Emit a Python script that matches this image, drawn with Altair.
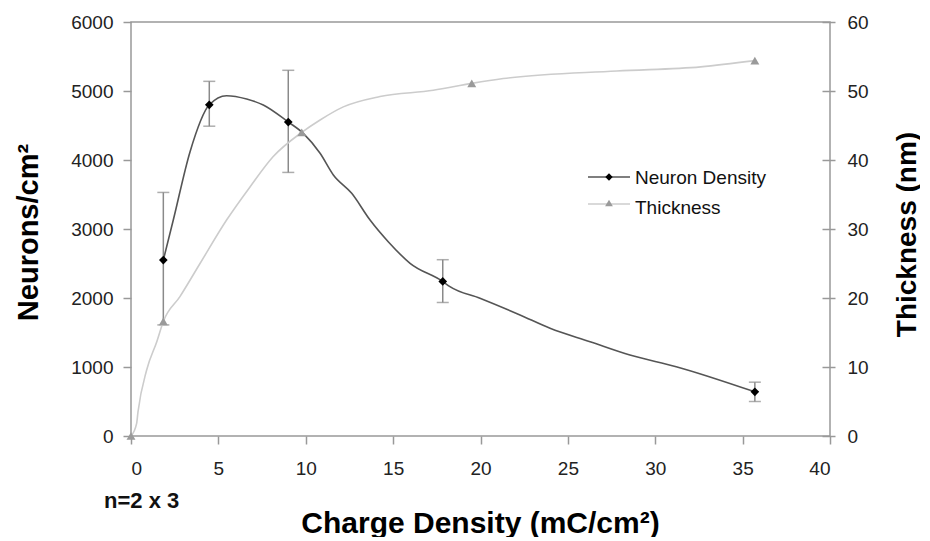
import altair as alt
import pandas as pd

# Measured points (with markers)
nd_x = [1.85, 4.48, 9.0, 17.84, 35.7]
nd_y = [2550, 4800, 4550, 2240, 640]
nd_lo = [1610, 4490, 3820, 1935, 500]
nd_hi = [3530, 5140, 5300, 2555, 780]

th_x = [0, 1.85, 9.77, 19.5, 35.7]
th_y = [0, 16.6, 44.0, 51.1, 54.4]

# Curve vertices
ndc_x = [1.85, 2.42, 3.38, 4.48, 5.47, 6.62, 7.57, 9.0, 9.86, 10.82, 11.58, 12.63,
         13.68, 14.72, 15.97, 17.84, 18.25, 19.97, 22.26, 23.98, 26.27, 28.55, 31.2, 35.7]
ndc_y = [2550, 3130, 4121, 4800, 4932, 4884, 4797, 4550, 4386, 4097, 3783, 3517,
         3130, 2816, 2503, 2240, 2164, 1996, 1754, 1561, 1367, 1174, 1005, 640]

thc_x = [0, 0.32, 0.4, 0.9, 1.48, 1.85, 2.8, 3.95, 5.47, 6.81, 8.14, 9.77, 10.82,
         12.15, 14.25, 17.3, 19.5, 21.3, 27.8, 32.6, 35.7]
thc_y = [0, 1.8, 3.5, 9.6, 13.7, 16.6, 20.2, 25.0, 31.3, 36.1, 40.5, 44.0, 45.8,
         47.7, 49.2, 50.1, 51.1, 51.8, 52.9, 53.5, 54.4]

x_ticks = [0, 5, 10, 15, 20, 25, 30, 35, 40]
left_ticks = [0, 1000, 2000, 3000, 4000, 5000, 6000]
right_ticks = [0, 10, 20, 30, 40, 50, 60]
legend_labels = ["Neuron Density", "Thickness"]
note_text = "n=2 x 3"

FONT = "Liberation Sans"
AX = "#999999"

nd_pts = pd.DataFrame({"x": nd_x, "y": nd_y, "lo": nd_lo, "hi": nd_hi})
th_pts = pd.DataFrame({"x": th_x, "y": th_y})
nd_curve = pd.DataFrame({"x": ndc_x, "y": ndc_y})
th_curve = pd.DataFrame({"x": thc_x, "y": thc_y})

x_axis = alt.Axis(values=x_ticks, title="Charge Density (mC/cm²)", grid=False, domain=False,
                  tickSize=8, tickColor=AX, tickWidth=1.5, labelPadding=15, format="d",
                  labelFont=FONT, labelFontSize=19, labelColor="#222",
                  titleFont=FONT, titleFontSize=30, titleFontWeight="bold", titleColor="#000",
                  titleX=349, titleY=87, titleBaseline="middle")
x_scale = alt.Scale(domain=[0, 40], nice=False, zero=False)


def xenc():
    return alt.X("x:Q", scale=x_scale, axis=x_axis)


left_scale = alt.Scale(domain=[0, 6000], nice=False)
left_axis = alt.Axis(orient="left", values=left_ticks, title="Neurons/cm²", grid=False, domain=False,
                     tickSize=8, tickColor=AX, tickWidth=1.5, labelPadding=10, format="d",
                     labelFont=FONT, labelFontSize=19, labelColor="#222",
                     titleFont=FONT, titleFontSize=29, titleFontWeight="bold", titleColor="#000",
                     titleAngle=-90, titleX=-103, titleY=210, titleAlign="center",
                     titleBaseline="middle")
right_scale = alt.Scale(domain=[0, 60], nice=False)
right_axis = alt.Axis(orient="right", values=right_ticks, title="Thickness (nm)", grid=False,
                      domain=False, offset=-8, format="d",
                      tickSize=13, tickColor=AX, tickWidth=1.5, labelPadding=12,
                      labelFont=FONT, labelFontSize=19, labelColor="#222",
                      titleFont=FONT, titleFontSize=28, titleFontWeight="bold", titleColor="#000",
                      titleAngle=-90, titleX=85, titleY=212, titleAlign="center",
                      titleBaseline="middle")

nd_line = alt.Chart(nd_curve).mark_line(color="#555555", strokeWidth=1.6, interpolate="monotone").encode(
    x=xenc(), y=alt.Y("y:Q", scale=left_scale, axis=left_axis))
nd_err = alt.Chart(nd_pts).mark_errorbar(color="#8a8a8a", thickness=1.5, ticks={"size": 12}).encode(
    x=xenc(), y=alt.Y("lo:Q", scale=left_scale, axis=left_axis), y2="hi:Q")
nd_mark = alt.Chart(nd_pts).mark_point(shape="diamond", filled=True, color="#000000", size=75, opacity=1).encode(
    x=xenc(), y=alt.Y("y:Q", scale=left_scale, axis=left_axis))
left = alt.layer(nd_err, nd_line, nd_mark)

th_line = alt.Chart(th_curve).mark_line(color="#cccccc", strokeWidth=1.6, interpolate="monotone").encode(
    x=xenc(), y=alt.Y("y:Q", scale=right_scale, axis=right_axis))
th_mark = alt.Chart(th_pts).mark_point(shape="triangle-up", filled=True, color="#9a9a9a", size=80, opacity=1).encode(
    x=xenc(), y=alt.Y("y:Q", scale=right_scale, axis=right_axis))
right = alt.layer(th_line, th_mark)

one = pd.DataFrame({"label": [legend_labels[0]]})
two = pd.DataFrame({"label": [legend_labels[1]]})
note = pd.DataFrame({"label": [note_text]})

leg1_line = alt.Chart(one).mark_rule(color="#555555", strokeWidth=1.5).encode(
    x=alt.value(457), x2=alt.value(499), y=alt.value(155))
leg1_pt = alt.Chart(one).mark_point(shape="diamond", filled=True, color="#000", size=55, opacity=1).encode(
    x=alt.value(478), y=alt.value(155))
leg1_tx = alt.Chart(one).mark_text(align="left", baseline="middle", font=FONT, fontSize=19, color="#111").encode(
    x=alt.value(504), y=alt.value(156), text="label:N")
leg2_line = alt.Chart(two).mark_rule(color="#cccccc", strokeWidth=1.5).encode(
    x=alt.value(457), x2=alt.value(499), y=alt.value(182))
leg2_pt = alt.Chart(two).mark_point(shape="triangle-up", filled=True, color="#9a9a9a", size=60, opacity=1).encode(
    x=alt.value(478), y=alt.value(181))
leg2_tx = alt.Chart(two).mark_text(align="left", baseline="middle", font=FONT, fontSize=19, color="#111").encode(
    x=alt.value(504), y=alt.value(186), text="label:N")
note_tx = alt.Chart(note).mark_text(align="left", baseline="middle", font=FONT, fontSize=22,
                                     fontWeight="bold", color="#111").encode(
    x=alt.value(-27), y=alt.value(479), text="label:N")

chart = alt.layer(
    left, right, leg1_line, leg1_pt, leg1_tx, leg2_line, leg2_pt, leg2_tx, note_tx
).resolve_scale(y="independent").properties(
    width=699, height=414,
    autosize=alt.AutoSizeParams(type="none"),
    padding={"left": 123, "top": 14, "right": 90, "bottom": 101},
    background="white",
).configure_view(stroke=AX, strokeWidth=1.5)

chart.save("out.html", embed_options={"renderer": "svg", "actions": False})
